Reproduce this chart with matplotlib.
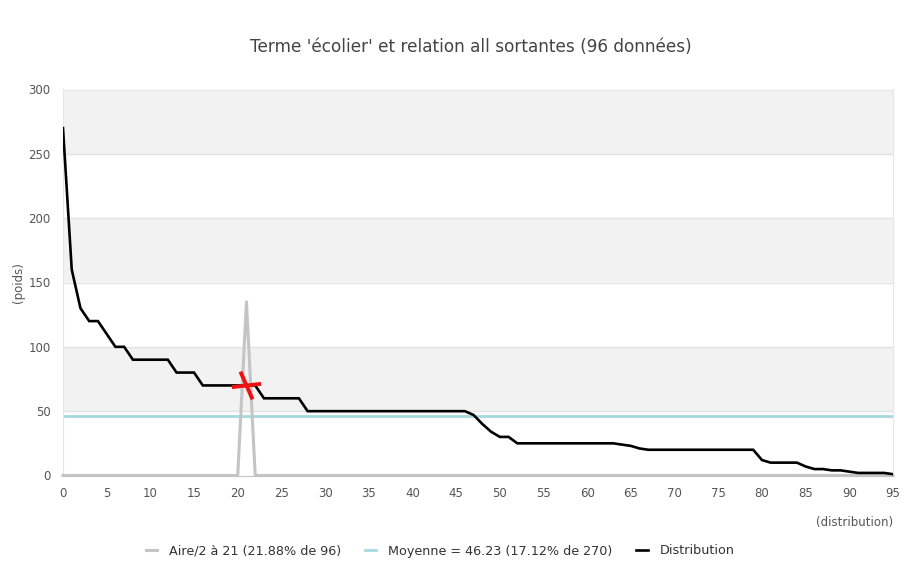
import numpy as np
import matplotlib
matplotlib.use("Agg")
import matplotlib.pyplot as plt
from matplotlib.path import Path

# ---- data ----
distribution = [270, 160, 130, 120, 120, 110, 100, 100, 90, 90,
                90, 90, 90, 80, 80, 80, 70, 70, 70, 70,
                70, 70, 70, 60, 60, 60, 60, 60, 50, 50,
                50, 50, 50, 50, 50, 50, 50, 50, 50, 50,
                50, 50, 50, 50, 50, 50, 50, 47, 40, 34,
                30, 30, 25, 25, 25, 25, 25, 25, 25, 25,
                25, 25, 25, 25, 24, 23, 21, 20, 20, 20,
                20, 20, 20, 20, 20, 20, 20, 20, 20, 20,
                12, 10, 10, 10, 10, 7, 5, 5, 4, 4,
                3, 2, 2, 2, 2, 1]
aire_index = 21
aire_height = 135
mark_value = 70
x_ticks = list(range(0, 96, 5))
y_ticks = [0, 50, 100, 150, 200, 250, 300]
title = "Terme 'écolier' et relation all sortantes (96 données)"

n = len(distribution)
xs = np.arange(n)
mean_val = float(np.mean(distribution))
aire = np.zeros(n)
aire[aire_index] = aire_height

lbl_aire = f"Aire/2 à {aire_index} ({aire_index / n * 100:.2f}% de {n})"
lbl_mean = f"Moyenne = {mean_val:.2f} ({mean_val / max(distribution) * 100:.2f}% de {max(distribution)})"
lbl_dist = "Distribution"

plt.rcParams['font.family'] = ['DejaVu Sans']

fig = plt.figure(figsize=(9.02, 5.67), dpi=100)
ax = fig.add_axes([63 / 902, 1 - 475.5 / 567, (893 - 63) / 902, (475.5 - 89.5) / 567])

# alternating bands
for i, (lo, hi) in enumerate(zip(y_ticks[:-1], y_ticks[1:])):
    if i % 2 == 1:
        ax.axhspan(lo, hi, color='#f2f2f2', zorder=0, lw=0)
for yv in y_ticks[1:-1]:
    ax.axhline(yv, color='#e2e2e2', lw=1, zorder=0.5)

ax.axhline(mean_val, color='#a6d8dc', lw=2, zorder=2, label=lbl_mean)
ax.plot(xs, aire, color='#c4c4c4', lw=2.2, zorder=3, clip_on=False, label=lbl_aire)
ax.plot(xs, distribution, color='black', lw=1.9, zorder=4, label=lbl_dist,
        solid_joinstyle='miter')

# red cross marker
cross = Path([(-14, -1.6), (14, 1.6), (-5.8, 13.3), (5.8, -13.3)],
             [Path.MOVETO, Path.LINETO, Path.MOVETO, Path.LINETO])
ax.plot([aire_index], [mark_value], marker=cross, markersize=21, color='#ee1111',
        markeredgewidth=2.8, linestyle='none', zorder=5)

ax.set_xlim(0, n - 1)
ax.set_ylim(0, 300)
ax.set_xticks(x_ticks)
ax.set_yticks(y_ticks)
ax.tick_params(axis='both', length=0, labelsize=8.5, labelcolor='#555555')
ax.tick_params(axis='x', pad=8)
ax.tick_params(axis='y', pad=9)
for s in ['left', 'right', 'top']:
    ax.spines[s].set_color('#e6e6e6')
    ax.spines[s].set_linewidth(0.8)
ax.spines['bottom'].set_color('#c4c4c4')

ax.text(1.0, -0.105, "(distribution)", transform=ax.transAxes, ha='right', va='top',
        fontsize=8.5, color='#555555')
fig.text(18 / 902, 1 - 283 / 567, "(poids)", rotation=90, ha='center', va='center',
         fontsize=8.5, color='#555555')

fig.text(471 / 902, 1 - 47 / 567, title, ha='center', va='center', fontsize=12.2,
         color='#444444')

handles, labels = ax.get_legend_handles_labels()
order = [labels.index(lbl_aire), labels.index(lbl_mean), labels.index(lbl_dist)]
leg = fig.legend([handles[i] for i in order], [labels[i] for i in order],
                 loc='center', bbox_to_anchor=(440 / 902, 1 - 551 / 567), ncol=3,
                 frameon=False, fontsize=9.2, handlelength=0.9, columnspacing=1.9,
                 handletextpad=0.9)
for t in leg.get_texts():
    t.set_color('#333333')

fig.savefig("out.png", dpi=100)
